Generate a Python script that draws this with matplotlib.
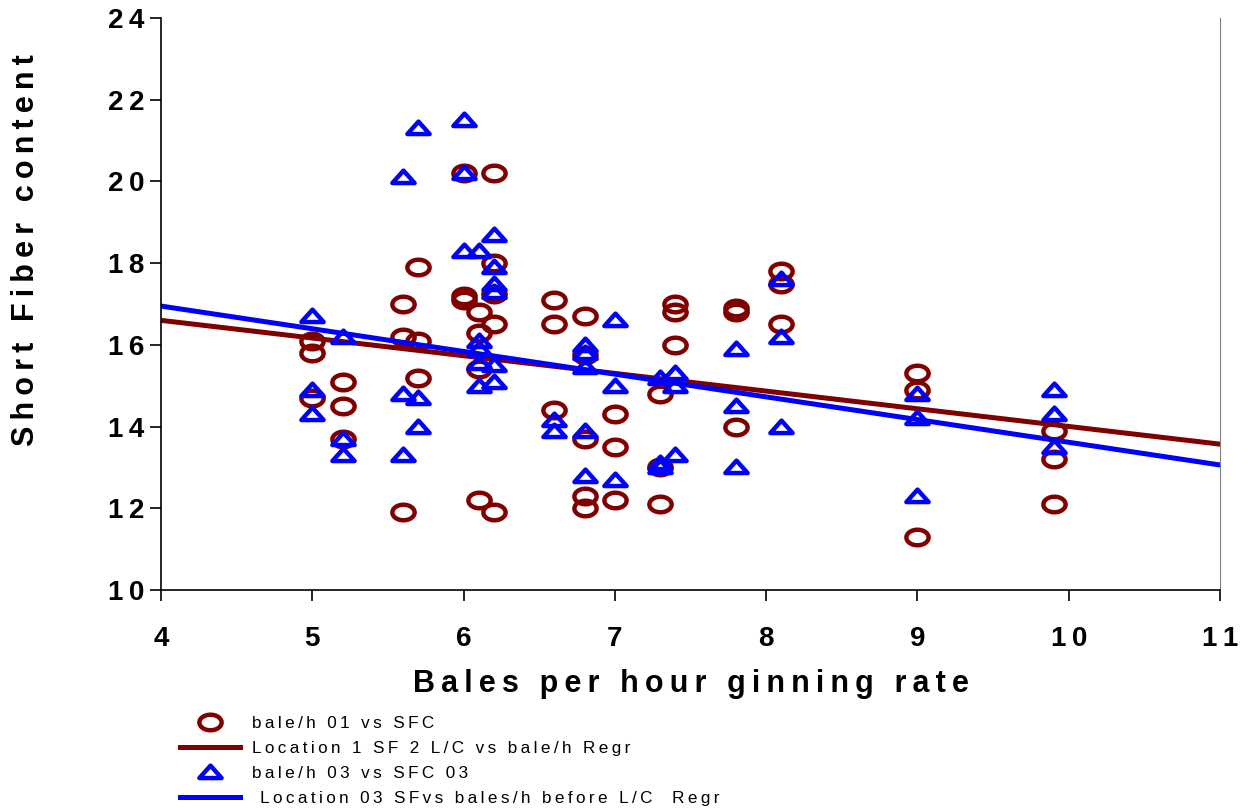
import numpy as np
import matplotlib
matplotlib.use("Agg")
import matplotlib.pyplot as plt
from matplotlib.path import Path
from matplotlib.lines import Line2D
from matplotlib.ticker import FuncFormatter

plt.rcParams['font.family'] = ['Liberation Sans', 'DejaVu Sans']

# bale/h 01 vs SFC (circles)
x01 = [5.0, 5.0, 5.0, 5.2, 5.2, 5.2, 5.6, 5.6, 5.6, 5.7, 5.7, 5.7,
       6.0, 6.0, 6.0, 6.1, 6.1, 6.1, 6.1, 6.2, 6.2, 6.2, 6.2, 6.2,
       6.6, 6.6, 6.6, 6.8, 6.8, 6.8, 6.8, 6.8, 7.0, 7.0, 7.0,
       7.3, 7.3, 7.3, 7.4, 7.4, 7.4, 7.8, 7.8, 7.8, 8.1, 8.1, 8.1,
       9.0, 9.0, 9.0, 9.9, 9.9, 9.9]
y01 = [16.1, 15.8, 14.7, 15.1, 14.5, 13.7, 17.0, 16.2, 11.9, 17.9, 16.1, 15.2,
       20.2, 17.2, 17.1, 16.8, 16.3, 15.4, 12.2, 20.2, 18.0, 17.25, 16.5, 11.9,
       17.1, 16.5, 14.4, 16.7, 15.75, 13.7, 12.3, 12.0, 14.3, 13.5, 12.2,
       14.8, 13.0, 12.1, 17.0, 16.8, 16.0, 16.9, 16.8, 14.0, 17.8, 17.5, 16.5,
       15.3, 14.9, 11.3, 13.9, 13.2, 12.1]

# bale/h 03 vs SFC 03 (triangles)
x03 = [5.0, 5.0, 5.0, 5.2, 5.2, 5.2, 5.6, 5.6, 5.6, 5.7, 5.7, 5.7,
       6.0, 6.0, 6.0, 6.1, 6.1, 6.1, 6.1, 6.1, 6.2, 6.2, 6.2, 6.2, 6.2, 6.2,
       6.6, 6.6, 6.8, 6.8, 6.8, 6.8, 6.8, 7.0, 7.0, 7.0,
       7.3, 7.3, 7.3, 7.4, 7.4, 7.4, 7.8, 7.8, 7.8, 8.1, 8.1, 8.1,
       9.0, 9.0, 9.0, 9.9, 9.9, 9.9]
y03 = [16.7, 14.9, 14.3, 16.2, 13.7, 13.3, 20.1, 14.8, 13.3, 21.3, 14.7, 14.0,
       21.5, 20.2, 18.3, 18.3, 16.1, 15.9, 15.55, 15.0, 18.7, 17.9, 17.5, 17.3, 15.5, 15.1,
       14.15, 13.9, 16.0, 15.8, 15.45, 13.9, 12.8, 16.6, 15.0, 12.7,
       15.2, 13.1, 13.0, 15.3, 15.0, 13.3, 15.9, 14.5, 13.0, 17.6, 16.2, 14.0,
       14.8, 14.2, 12.3, 14.9, 14.3, 13.5]

# regression lines (end points)
reg_x = [4, 11]
reg01_y = [16.6, 13.57]
reg03_y = [16.95, 13.06]

labels = ["bale/h 01 vs SFC",
          "Location 1 SF 2 L/C vs bale/h Regr",
          "bale/h 03 vs SFC 03",
          " Location 03 SFvs bales/h before L/C  Regr"]

red = '#800000'
blue = '#0000FF'


def spaced(s):
    # imitate the wide letter spacing of the original
    return '\u2009'.join(s)


# oval and flat triangle markers
t = np.linspace(0, 2 * np.pi, 60)
oval = Path(np.column_stack([np.cos(t), 0.7 * np.sin(t)]), closed=True)
tri = Path([(-1, -0.5), (1, -0.5), (0, 0.62), (-1, -0.5)], closed=True)

mk = dict(linestyle='none', markersize=16, markerfacecolor='none',
          markeredgewidth=3.2)

fig = plt.figure(figsize=(12.48, 8.08), dpi=100)
ax = fig.add_axes([0.129, 0.2698, 0.8486, 0.7079])

ax.plot(x01, y01, marker=oval, markeredgecolor=red, **mk)
ax.plot(reg_x, reg01_y, color=red, linewidth=3.6)
ax.plot(x03, y03, marker=tri, markeredgecolor=blue, **mk)
ax.plot(reg_x, reg03_y, color=blue, linewidth=3.6)

ax.set_xlim(4, 11)
ax.set_ylim(10, 24)
ax.set_xticks(range(4, 12))
ax.set_yticks(range(10, 25, 2))
fmt = FuncFormatter(lambda v, p: spaced(str(int(v))))
ax.xaxis.set_major_formatter(fmt)
ax.yaxis.set_major_formatter(fmt)
ax.tick_params(direction='out', length=8, width=1.2, labelsize=20, colors='black')
ax.tick_params(axis='x', pad=18)
ax.tick_params(axis='y', pad=4)
for lab in ax.get_xticklabels() + ax.get_yticklabels():
    lab.set_fontweight('bold')

ax.spines['top'].set_visible(False)
ax.spines['right'].set_color('#808080')
ax.spines['left'].set_linewidth(1.2)
ax.spines['bottom'].set_linewidth(1.2)

ax.set_xlabel(spaced("Bales per hour ginning rate"), fontsize=22,
              fontweight='bold', labelpad=12)
ax.set_ylabel(spaced("Short Fiber content"), fontsize=22, fontweight='bold')
ax.yaxis.set_label_coords(-0.113, 0.594)

handles = [Line2D([], [], marker=oval, markeredgecolor=red, **mk),
           Line2D([], [], color=red, linewidth=3.6),
           Line2D([], [], marker=tri, markeredgecolor=blue, **mk),
           Line2D([], [], color=blue, linewidth=3.6)]
fig.legend(handles, [spaced(s) for s in labels], loc='upper left',
           bbox_to_anchor=(0.144, 0.1138), frameon=False, fontsize=12.3,
           handlelength=3.5, handletextpad=0.75, labelspacing=0.58,
           borderpad=0, borderaxespad=0)

fig.savefig('out.png', dpi=100)
